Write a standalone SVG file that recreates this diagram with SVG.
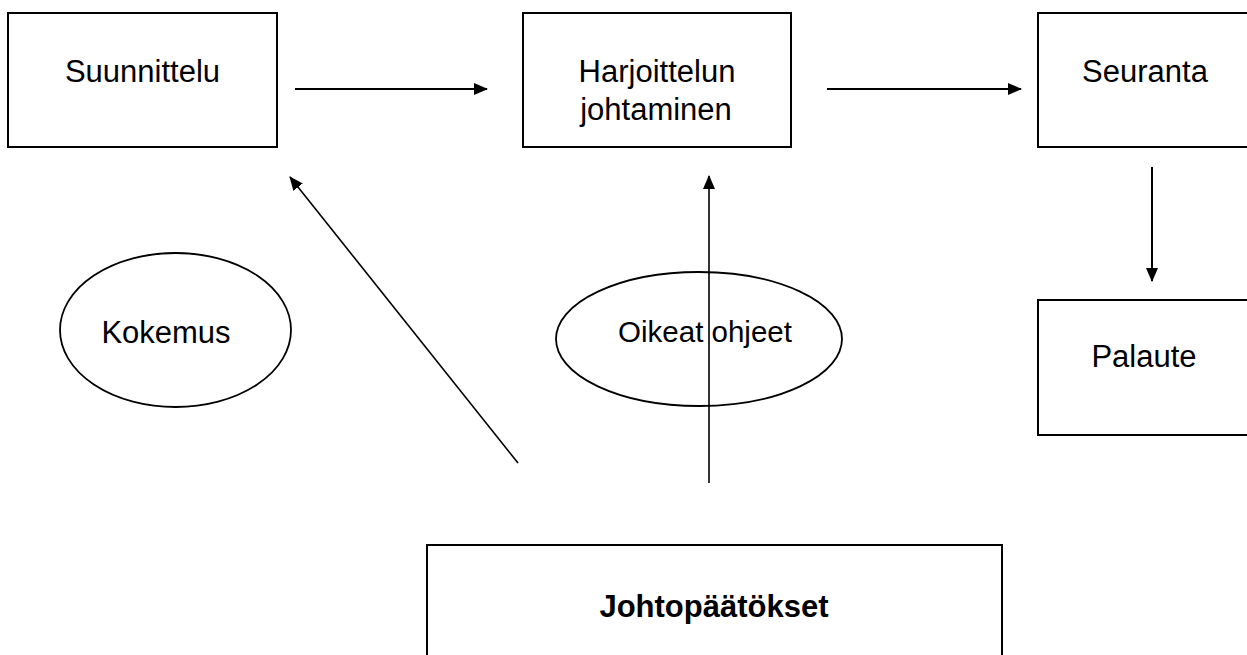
<svg xmlns="http://www.w3.org/2000/svg" width="1247" height="655" viewBox="0 0 1247 655">
<style>
.box{fill:#fff;stroke:#000;stroke-width:2}
.ell{fill:none;stroke:#000;stroke-width:1.8}
.t{font-family:"Liberation Sans",Arial,sans-serif;font-size:31px;fill:#000;text-anchor:middle}
.b{font-weight:bold}
.c{stroke:#000;stroke-width:2;fill:none;marker-end:url(#ah)}
.c2{stroke:#000;stroke-width:1.6;fill:none;marker-end:url(#ah)}
</style>
<defs>
<marker id="ah" markerUnits="userSpaceOnUse" markerWidth="14" markerHeight="12" viewBox="0 0 14 12" refX="13" refY="6" orient="auto">
<path d="M0,0 L14,6 L0,12 Z" fill="#000"/>
</marker>
</defs>
<rect width="1247" height="655" fill="#fff"/>
<g id="suunnittelu">
<rect class="box" x="8" y="13" width="269" height="134"/>
<text class="t" x="142.5" y="82">Suunnittelu</text>
</g>
<g id="harjoittelun">
<rect class="box" x="523" y="13" width="268" height="134"/>
<text class="t" x="657" y="82">Harjoittelun</text>
<text class="t" x="656" y="120">johtaminen</text>
</g>
<g id="seuranta">
<rect class="box" x="1038" y="13" width="230" height="134"/>
<text class="t" x="1145" y="82">Seuranta</text>
</g>
<g id="palaute">
<rect class="box" x="1038" y="300" width="230" height="135"/>
<text class="t" x="1144" y="367">Palaute</text>
</g>
<g id="kokemus">
<ellipse class="ell" cx="175.5" cy="330" rx="115.5" ry="77"/>
<text class="t" x="166" y="343">Kokemus</text>
</g>
<g id="oikeat-ohjeet">
<ellipse class="ell" cx="699" cy="339" rx="143" ry="67"/>
<text class="t" x="705" y="342" style="font-size:29.5px">Oikeat ohjeet</text>
</g>
<g id="johtopaatokset">
<rect class="box" x="427" y="545" width="575" height="130"/>
<text class="t b" x="714" y="617">Johtopäätökset</text>
</g>
<g id="connectors">
<line class="c" x1="295" y1="89" x2="487" y2="89"/>
<line class="c" x1="827" y1="89" x2="1021" y2="89"/>
<line class="c" x1="1152" y1="167" x2="1152" y2="281"/>
<line class="c2" x1="709" y1="483" x2="709" y2="176"/>
<line class="c2" x1="518" y1="463" x2="290" y2="177"/>
</g>
</svg>
